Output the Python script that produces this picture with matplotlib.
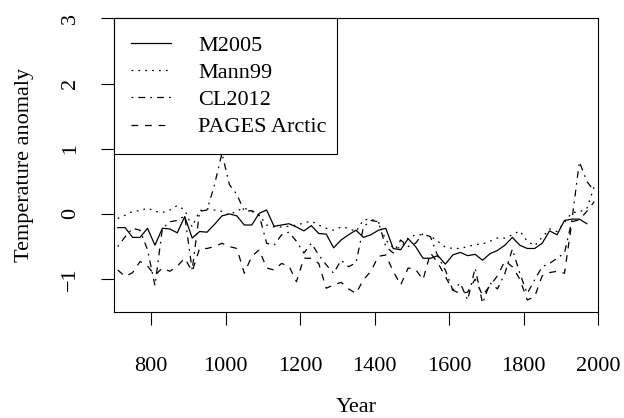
import numpy as np
import matplotlib.pyplot as plt

plt.rcParams['font.family'] = ['Liberation Serif', 'DejaVu Serif']

# 20-year means
years = np.arange(710, 2000, 20)

m2005 = [-0.21, -0.21, -0.36, -0.36, -0.22, -0.48, -0.22, -0.23, -0.29, -0.04,
         -0.37, -0.27, -0.28, -0.16, -0.03, 0.00, -0.03, -0.17, -0.17, 0.01,
         0.06, -0.19, -0.17, -0.15, -0.20, -0.26, -0.18, -0.30, -0.31, -0.52,
         -0.40, -0.32, -0.25, -0.36, -0.32, -0.25, -0.22, -0.53, -0.55, -0.38,
         -0.50, -0.68, -0.68, -0.64, -0.77, -0.63, -0.59, -0.64, -0.62, -0.71,
         -0.61, -0.56, -0.48, -0.36, -0.48, -0.53, -0.53, -0.45, -0.26, -0.32,
         -0.10, -0.08, -0.08, -0.15, np.nan]

mann99 = [-0.07, -0.02, 0.04, 0.05, 0.09, 0.04, 0.02, 0.06, 0.13, 0.06,
          -0.20, 0.05, 0.08, 0.06, 0.04, -0.02, 0.05, 0.09, 0.04, -0.02,
          -0.17, -0.20, -0.20, -0.19, -0.17, -0.14, -0.11, -0.17, -0.22, -0.25,
          -0.20, -0.22, -0.27, -0.09, -0.08, -0.12, -0.40, -0.52, -0.52, -0.37,
          -0.32, -0.32, -0.34, -0.42, -0.51, -0.53, -0.53, -0.50, -0.47, -0.46,
          -0.42, -0.37, -0.37, -0.32, -0.26, -0.42, -0.49, -0.36, -0.23, -0.27,
          -0.13, 0.02, 0.03, 0.08, 0.42]

cl2012 = [-0.50, -0.35, -0.22, -0.25, -0.55, -1.10, -0.22, -0.12, -0.10, -0.03,
          -0.86, 0.04, 0.06, 0.45, 0.93, 0.45, 0.30, 0.04, 0.05, -0.02,
          -0.45, -0.48, -0.32, -0.28, -0.42, -0.60, -0.45, -0.63, -0.78, -0.91,
          -0.71, -0.81, -0.75, -0.20, -0.10, -0.12, -0.50, -0.60, -0.40, -0.50,
          -0.45, -0.30, -0.35, -0.65, -0.86, -1.17, -1.06, -1.32, -0.83, -1.37,
          -1.06, -1.15, -0.91, -0.54, -0.91, -1.22, -1.01, -0.81, -0.76, -0.68,
          -0.60, -0.10, 0.80, 0.50, 0.35]

pages_arctic = [-0.86, -0.96, -0.90, -0.73, -0.80, -0.94, -0.83, -0.88, -0.80, -0.68,
                -0.88, -0.53, -0.53, -0.50, -0.45, -0.50, -0.53, -0.91, -0.65, -0.55,
                -0.83, -0.86, -0.76, -0.80, -1.04, -0.68, -0.68, -0.76, -1.14, -1.09,
                -1.05, -1.15, -1.22, -1.01, -0.88, -0.65, -0.63, -0.88, -1.09, -0.83,
                -0.85, -1.01, -0.60, -0.75, -0.96, -1.17, -1.22, -1.20, -1.00, -1.25,
                -1.10, -0.95, -0.72, -0.81, -1.00, -1.32, -1.27, -0.95, -0.90, -0.88,
                -0.91, -0.12, -0.09, 0.04, 0.19]

labels = ['M2005', 'Mann99', 'CL2012', 'PAGES Arctic']

fig = plt.figure(figsize=(6.24, 4.18), dpi=100)
ax = fig.add_axes([0.1827, 0.2543, 0.7756, 0.7017])

lw = 0.9
ax.plot(years, m2005, color='black', lw=lw, linestyle='-', label=labels[0])
ax.plot(years, mann99, color='black', lw=lw, linestyle=(0, (1.4, 4.1)), label=labels[1])
ax.plot(years, cl2012, color='black', lw=lw, linestyle=(0, (1.4, 4.1, 5.4, 4.1)), label=labels[2])
ax.plot(years, pages_arctic, color='black', lw=lw, linestyle=(0, (5.4, 5.4)), label=labels[3])

ax.set_xlim(700, 2000)
ax.set_ylim(-1.5, 3)
ax.set_xticks(range(800, 2001, 200))
ax.set_yticks([-1, 0, 1, 2, 3])
ax.tick_params(direction='out', length=9.5, width=0.8, labelsize=16)
ax.tick_params(axis='x', pad=23)
ax.tick_params(axis='y', pad=15)
for lab in ax.get_yticklabels():
    lab.set_rotation(90)
    lab.set_va('center')
for sp in ax.spines.values():
    sp.set_linewidth(0.8)

fig.text(356 / 624, 1 - 408 / 418, 'Year', ha='center', va='center', fontsize=16)
fig.text(25 / 624, 1 - 165 / 418, 'Temperature anomaly', ha='center', va='center',
         rotation=90, fontsize=16)

leg = ax.legend(loc='upper left', bbox_to_anchor=(0, 0, 0.4607, 1), mode='expand',
                borderaxespad=0, fancybox=False, edgecolor='black', framealpha=1,
                fontsize=16, handlelength=1.8, handletextpad=1.25,
                labelspacing=0.3, borderpad=0.75)
leg.get_frame().set_linewidth(0.8)

fig.savefig('out.png', dpi=100)
